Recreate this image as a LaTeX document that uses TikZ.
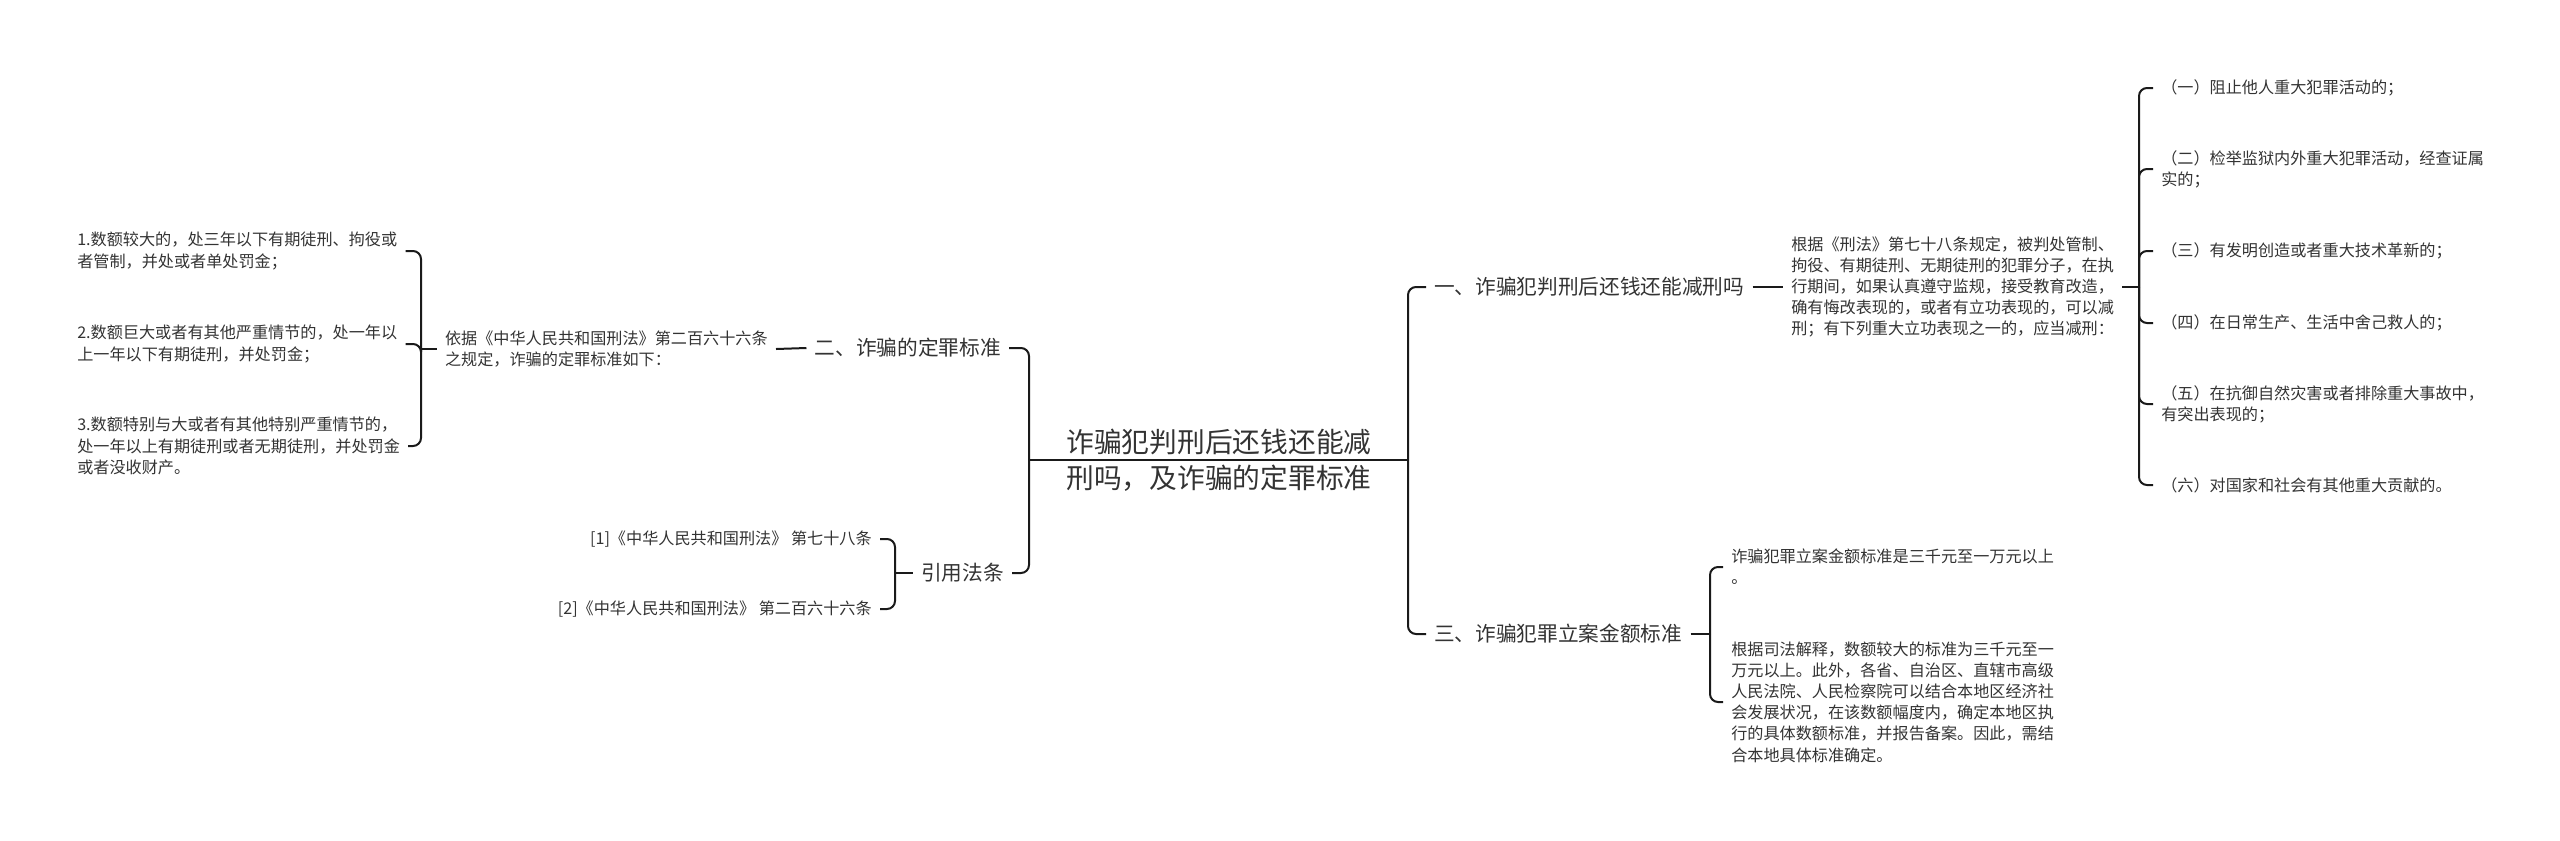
\documentclass[tikz,border=0pt]{standalone}
\usepackage{fontspec}
\setmainfont{Noto Sans CJK SC}
\definecolor{txt}{HTML}{333333}
\definecolor{wire}{HTML}{1A1A1A}

\begin{document}
\begin{tikzpicture}[x=0.75pt, y=-0.75pt,
 leaf/.style={text=txt, font=\fontsize{12.1}{15.9}\selectfont, align=left, inner xsep=6pt, inner ysep=2pt},
 branch/.style={text=txt, font=\fontsize{15.5}{20}\selectfont, inner xsep=6pt, inner ysep=2pt},
 link/.style={draw=wire, line width=1.5pt, rounded corners=6pt}]
 \useasboundingbox (0, 0) rectangle (2560, 840);

 \node[text=txt, font=\fontsize{20.8}{27}\selectfont, align=center] (root) at (1219, 460) {诈骗犯判刑后还钱还能减\\刑吗，及诈骗的定罪标准};
 \coordinate (rl) at (1029, 460);
 \coordinate (rr) at (1408, 460);

 \node[branch, anchor=east] (n2) at (1009, 348) {二、诈骗的定罪标准};
 \node[branch, anchor=east] (nr) at (1012, 573) {引用法条};
 \node[branch, anchor=west] (n1) at (1426, 287) {一、诈骗犯判刑后还钱还能减刑吗};
 \node[branch, anchor=west] (n3) at (1426, 634) {三、诈骗犯罪立案金额标准};

 \node[leaf, anchor=east] (yj) at (776, 349) {依据《中华人民共和国刑法》第二百六十六条\\之规定，诈骗的定罪标准如下：};
 \node[leaf, anchor=west] (a1) at (69, 251) {1.数额较大的，处三年以下有期徒刑、拘役或\\者管制，并处或者单处罚金；};
 \node[leaf, anchor=west] (a2) at (69, 344) {2.数额巨大或者有其他严重情节的，处一年以\\上一年以下有期徒刑，并处罚金；};
 \node[leaf, anchor=west] (a3) at (69, 446) {3.数额特别与大或者有其他特别严重情节的，\\处一年以上有期徒刑或者无期徒刑，并处罚金\\或者没收财产。};
 \coordinate (lb) at (421, 349);

 \node[leaf, align=right, anchor=east] (c1) at (880, 539) {[1]《中华人民共和国刑法》 第七十八条};
 \node[leaf, align=right, anchor=east] (c2) at (880, 609) {[2]《中华人民共和国刑法》 第二百六十六条};
 \coordinate (cb) at (895, 573);

 \node[leaf, anchor=west] (p1) at (1783, 287) {根据《刑法》第七十八条规定，被判处管制、\\拘役、有期徒刑、无期徒刑的犯罪分子，在执\\行期间，如果认真遵守监规，接受教育改造，\\确有悔改表现的，或者有立功表现的，可以减\\刑；有下列重大立功表现之一的，应当减刑：};
 \coordinate (ib) at (2139, 287);
 \node[leaf, anchor=west] (i1) at (2153, 88) {（一）阻止他人重大犯罪活动的；};
 \node[leaf, anchor=west] (i2) at (2153, 169) {（二）检举监狱内外重大犯罪活动，经查证属\\实的；};
 \node[leaf, anchor=west] (i3) at (2153, 251) {（三）有发明创造或者重大技术革新的；};
 \node[leaf, anchor=west] (i4) at (2153, 323) {（四）在日常生产、生活中舍己救人的；};
 \node[leaf, anchor=west] (i5) at (2153, 404) {（五）在抗御自然灾害或者排除重大事故中，\\有突出表现的；};
 \node[leaf, anchor=west] (i6) at (2153, 485) {（六）对国家和社会有其他重大贡献的。};

 \node[leaf, anchor=west] (t1) at (1723, 567) {诈骗犯罪立案金额标准是三千元至一万元以上\\。};
 \node[leaf, anchor=west] (t2) at (1723, 702) {根据司法解释，数额较大的标准为三千元至一\\万元以上。此外，各省、自治区、直辖市高级\\人民法院、人民检察院可以结合本地区经济社\\会发展状况，在该数额幅度内，确定本地区执\\行的具体数额标准，并报告备案。因此，需结\\合本地具体标准确定。};
 \coordinate (tb) at (1710, 634);

 \draw[link] (rl) -- (rr);
 \foreach \c in {n2, nr} \draw[link] (rl) |- (\c.east);
 \foreach \c in {n1, n3} \draw[link] (rr) |- (\c.west);

 \draw[link] (n2.west) -- (yj.east);
 \draw[link] (yj.west) -- (lb);
 \foreach \c in {a1, a2, a3} \draw[link] (lb) |- (\c.east);

 \draw[link] (nr.west) -- (cb);
 \foreach \c in {c1, c2} \draw[link] (cb) |- (\c.east);

 \draw[link] (n1.east) -- (p1.west);
 \draw[link] (p1.east) -- (ib);
 \foreach \c in {i1, i2, i3, i4, i5, i6} \draw[link] (ib) |- (\c.west);

 \draw[link] (n3.east) -- (tb);
 \foreach \c in {t1, t2} \draw[link] (tb) |- (\c.west);
\end{tikzpicture}
\end{document}
